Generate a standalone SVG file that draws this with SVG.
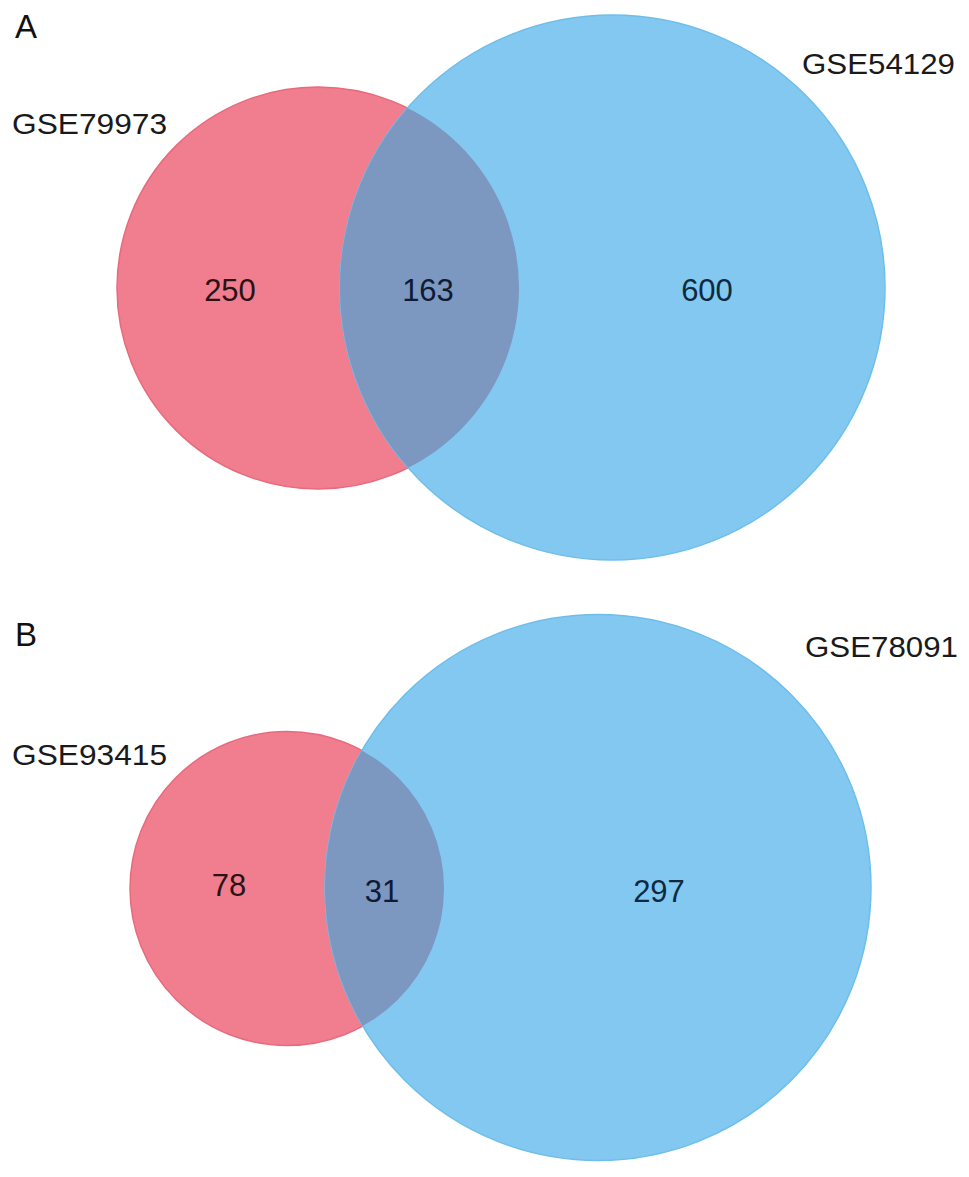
<svg xmlns="http://www.w3.org/2000/svg" width="969" height="1177" viewBox="0 0 969 1177">
<style>
.red{fill:#F07E8E;stroke:#E86A7D;stroke-width:1.5}
.blue{fill:#82C8F0;stroke:#6FBEEA;stroke-width:1.5}
.ovl{fill:#7C97C0;stroke:none}
.lbl{font-family:"Liberation Sans",Arial,sans-serif;font-size:29px;fill:#1a1a1a}
.num{font-family:"Liberation Sans",Arial,sans-serif;font-size:31px;text-anchor:middle}
.panel{font-family:"Liberation Sans",Arial,sans-serif;font-size:33px;fill:#111}
</style>
<defs>
<clipPath id="clipA"><circle cx="318" cy="288" r="201"/></clipPath>
<clipPath id="clipB"><circle cx="287" cy="888.5" r="157"/></clipPath>
</defs>
<rect width="969" height="1177" fill="#fff"/>

<g id="panelA">
<text class="panel" x="15" y="38">A</text>
<g id="setA1">
<circle class="red" cx="318" cy="288" r="201"/>
<text class="lbl" x="12" y="134" textLength="155" lengthAdjust="spacingAndGlyphs">GSE79973</text>
</g>
<g id="setA2">
<circle class="blue" cx="612.5" cy="287.5" r="272.5"/>
<text class="lbl" x="802" y="74" textLength="153" lengthAdjust="spacingAndGlyphs">GSE54129</text>
</g>
<g id="overlapA">
<circle class="ovl" cx="612.5" cy="287.5" r="272.5" clip-path="url(#clipA)"/>
</g>
<g id="countsA">
<text class="num" x="230" y="301" fill="#2b1217">250</text>
<text class="num" x="428" y="301" fill="#0f1a33">163</text>
<text class="num" x="707" y="301" fill="#0f2a40">600</text>
</g>
</g>

<g id="panelB">
<text class="panel" x="15" y="646">B</text>
<g id="setB1">
<circle class="red" cx="287" cy="888.5" r="157"/>
<text class="lbl" x="12" y="765" textLength="155" lengthAdjust="spacingAndGlyphs">GSE93415</text>
</g>
<g id="setB2">
<circle class="blue" cx="598" cy="887.5" r="273"/>
<text class="lbl" x="805" y="657" textLength="153" lengthAdjust="spacingAndGlyphs">GSE78091</text>
</g>
<g id="overlapB">
<circle class="ovl" cx="598" cy="887.5" r="273" clip-path="url(#clipB)"/>
</g>
<g id="countsB">
<text class="num" x="229" y="896" fill="#2b1217">78</text>
<text class="num" x="382" y="902" fill="#0f1a33">31</text>
<text class="num" x="659" y="902" fill="#0f2a40">297</text>
</g>
</g>
<g id="connectors"/>
</svg>
